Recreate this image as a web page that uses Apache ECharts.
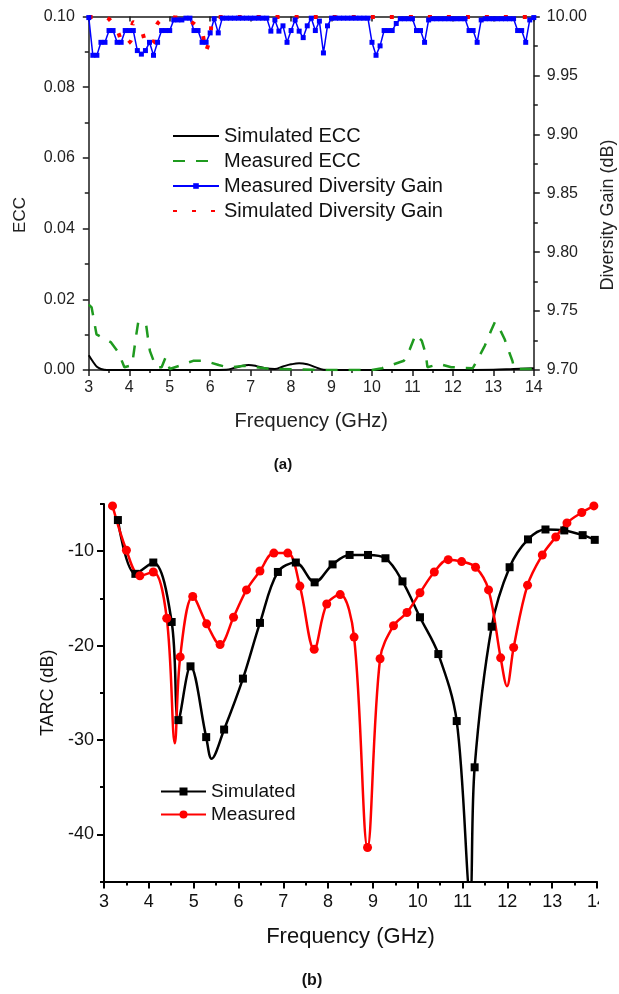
<!DOCTYPE html>
<html><head><meta charset="utf-8">
<script src="https://cdn.jsdelivr.net/npm/echarts@6/dist/echarts.min.js"></script>
<style>html,body{margin:0;padding:0;background:#fff}#c{width:619px;height:994px}</style>
</head><body><div id="c"></div>
<script>
const FONT = '"Liberation Sans", Arial, Helvetica, sans-serif';

// ---------- (a) ECC / Diversity Gain ----------
const simulatedEcc = [[3.0,0.0042],[3.1,0.0024],[3.2,0.0009],[3.3,0.0003],[3.45,0.0],[4.0,0.0],[5.0,0.0],[6.0,0.0],[6.4,0.0001],
  [6.6,0.0006],[6.8,0.0012],[6.95,0.0014],[7.15,0.0011],[7.4,0.0004],[7.6,0.0003],[7.8,0.0010],[8.0,0.0016],[8.2,0.0019],
  [8.4,0.0016],[8.6,0.0008],[8.8,0.0001],[9.0,0.0],[10.0,0.0],[11.0,0.0],[12.0,0.0],[13.0,0.0001],[13.5,0.0003],[14.0,0.0005]];
const measuredEcc = [[3.0,0.0185],[3.07,0.0177],[3.19,0.0101],[3.55,0.0078],[3.73,0.005],[3.88,0.0008],[4.07,0.0014],[4.17,0.0097],
  [4.22,0.0134],[4.41,0.0134],[4.46,0.0092],[4.51,0.0054],[4.66,0.0008],[4.8,0.0008],[4.9,0.0036],[5.0,0.0003],[5.29,0.0014],
  [5.58,0.0026],[5.87,0.0026],[6.21,0.0014],[6.46,0.0007],[6.85,0.0012],[7.5,0.0003],[8.0,0.0002],[9.0,0.0],[10.0,0.0],
  [10.25,0.0005],[10.79,0.0026],[10.94,0.006],[11.08,0.0101],[11.23,0.0083],[11.33,0.0045],[11.37,0.0008],[11.67,0.0017],
  [11.96,0.0008],[12.49,0.0005],[12.64,0.0036],[12.79,0.0069],[12.94,0.011],[13.04,0.0136],[13.14,0.012],[13.28,0.0087],
  [13.38,0.0054],[13.47,0.0026],[13.52,0.0003],[14.0,0.0003]];
const dgFreq = [3.0,3.1,3.2,3.3,3.4,3.5,3.6,3.7,3.8,3.9,
  4.0,4.1,4.2,4.3,4.4,4.5,4.6,4.7,4.8,4.9,
  5.0,5.1,5.2,5.3,5.4,5.5,5.6,5.7,5.8,5.9,
  6.0,6.1,6.2,6.3,6.4,6.5,6.6,6.7,6.8,6.9,
  7.0,7.1,7.2,7.3,7.4,7.5,7.6,7.7,7.8,7.9,
  8.0,8.1,8.2,8.3,8.4,8.5,8.6,8.7,8.8,8.9,
  9.0,9.1,9.2,9.3,9.4,9.5,9.6,9.7,9.8,9.9,
  10.0,10.1,10.2,10.3,10.4,10.5,10.6,10.7,10.8,10.9,
  11.0,11.1,11.2,11.3,11.4,11.5,11.6,11.7,11.8,11.9,
  12.0,12.1,12.2,12.3,12.4,12.5,12.6,12.7,12.8,12.9,
  13.0,13.1,13.2,13.3,13.4,13.5,13.6,13.7,13.8,13.9,
  14.0];
const measuredDG = [9.999,9.967,9.967,9.978,9.978,9.988,9.988,9.978,9.978,9.988,
  9.988,9.988,9.971,9.968,9.971,9.978,9.967,9.978,9.988,9.988,
  9.988,9.997,9.997,9.997,9.9985,9.9985,9.988,9.988,9.978,9.978,
  9.986,9.998,9.986,9.9985,9.9985,9.9985,9.9985,9.9985,9.9985,9.9985,
  9.9985,9.9985,9.9985,9.9985,9.9985,9.9875,9.997,9.9875,9.992,9.978,
  9.988,9.997,9.9875,9.982,9.992,9.9985,9.988,9.996,9.969,9.992,
  9.9985,9.9985,9.9985,9.9985,9.9985,9.9985,9.9985,9.9985,9.9985,9.9985,
  9.978,9.967,9.975,9.988,9.988,9.988,9.994,9.998,9.998,9.998,
  9.998,9.988,9.988,9.978,9.997,9.998,9.998,9.998,9.998,9.998,
  9.998,9.998,9.998,9.998,9.988,9.988,9.978,9.997,9.998,9.998,
  9.998,9.998,9.998,9.998,9.998,9.998,9.988,9.988,9.978,9.997,
  9.999];
const simulatedDG = [[3.0,9.9995],[3.4,9.9995],[3.7,9.988],[3.88,9.975],[4.05,9.98],[4.1,9.995],[4.3,9.988],[4.45,9.975],
  [4.6,9.978],[4.7,9.994],[5.0,9.9995],[5.5,9.996],[5.8,9.986],[5.88,9.970],[6.0,9.982],[6.1,9.9995],[14.0,9.9995]];

// ---------- (b) TARC ----------
const simulatedTarc = [[3.31,-6.7],[3.70,-12.4],[4.10,-11.2],[4.51,-17.5],[4.66,-27.9],[4.93,-22.2],[5.28,-29.7],[5.68,-28.9],
  [6.10,-23.5],[6.48,-17.6],[6.88,-12.2],[7.28,-11.2],[7.70,-13.3],[8.10,-11.4],[8.48,-10.4],[8.89,-10.4],[9.28,-10.75],
  [9.66,-13.2],[10.05,-17.0],[10.46,-20.9],[10.87,-28.0],[11.27,-32.9],[11.65,-18.0],[12.05,-11.7],[12.46,-8.75],
  [12.85,-7.7],[13.27,-7.8],[13.68,-8.3],[13.95,-8.8]];
const simulatedTarcDips = [[5.40,-32.0],[11.17,-46.5]];
const measuredTarc = [[3.19,-5.2],[3.50,-9.9],[3.80,-12.6],[4.10,-12.2],[4.40,-17.1],[4.70,-21.2],[4.98,-14.8],[5.29,-17.7],
  [5.59,-19.9],[5.89,-17.0],[6.18,-14.1],[6.48,-12.1],[6.79,-10.2],[7.10,-10.2],[7.37,-13.7],[7.69,-20.4],[7.97,-15.6],
  [8.27,-14.6],[8.58,-19.1],[8.88,-41.4],[9.16,-21.4],[9.46,-17.9],[9.76,-16.5],[10.05,-14.4],[10.37,-12.2],[10.68,-10.9],
  [10.98,-11.1],[11.29,-11.7],[11.58,-14.1],[11.85,-21.3],[12.14,-20.2],[12.45,-13.6],[12.78,-10.4],[13.08,-8.5],
  [13.33,-7.0],[13.66,-5.9],[13.93,-5.2]];
const measuredTarcDips = [[4.58,-30.35],[11.99,-24.3]];
const tarcMajor = [-40,-30,-20,-10];
const tarcMinor = [-45,-35,-25,-15,-5];

function merge(a, b) { return a.concat(b).sort((p, q) => p[0] - q[0]); }
function isIn(list, v) { return list.some(p => p[0] === v[0] && p[1] === v[1]); }

const AX = '#1a1a1a';
const chart = echarts.init(document.getElementById('c'));
const option = {
  animation: false,
  backgroundColor: '#ffffff',
  textStyle: { fontFamily: FONT },
  grid: [
    { left: 88.8, top: 16.4, width: 445, height: 353.6, containLabel: false, outerBoundsMode: 'none' },
    { left: 104, top: 504, width: 493, height: 377.5, containLabel: false, outerBoundsMode: 'none' }
  ],
  xAxis: [
    { gridIndex: 0, type: 'value', min: 3, max: 14, interval: 1, position: 'bottom',
      name: 'Frequency (GHz)', nameLocation: 'middle', nameGap: 41,
      nameTextStyle: { fontSize: 20, color: '#222', fontFamily: FONT },
      axisLine: { onZero: false, lineStyle: { color: AX, width: 1.5 } },
      axisTick: { length: 6, lineStyle: { color: AX, width: 1.5 } },
      minorTick: { show: true, splitNumber: 2, length: 3, lineStyle: { color: AX, width: 1.5 } },
      axisLabel: { fontSize: 16, color: '#222', margin: 10, fontFamily: FONT },
      splitLine: { show: false }, minorSplitLine: { show: false } },
    { gridIndex: 0, type: 'value', min: 3, max: 14, interval: 1, position: 'top',
      axisLine: { onZero: false, lineStyle: { color: AX, width: 1.5 } },
      axisTick: { inside: true, length: 5, lineStyle: { color: AX, width: 1.5 } },
      minorTick: { show: false },
      axisLabel: { show: false }, splitLine: { show: false } },
    { gridIndex: 1, type: 'value', min: 3, max: 14, interval: 1, position: 'bottom',
      name: 'Frequency (GHz)', nameLocation: 'middle', nameGap: 44,
      nameTextStyle: { fontSize: 22, color: '#111', fontFamily: FONT },
      axisLine: { onZero: false, lineStyle: { color: '#000', width: 2 } },
      axisTick: { length: 7, lineStyle: { color: '#000', width: 2 } },
      minorTick: { show: true, splitNumber: 2, length: 4, lineStyle: { color: '#000', width: 2 } },
      axisLabel: { fontSize: 18, color: '#111', margin: 12, fontFamily: FONT },
      splitLine: { show: false }, minorSplitLine: { show: false } }
  ],
  yAxis: [
    { gridIndex: 0, type: 'value', min: 0, max: 0.1, interval: 0.02, position: 'left',
      axisLine: { onZero: false, lineStyle: { color: AX, width: 1.5 } },
      axisTick: { length: 6, lineStyle: { color: AX, width: 1.5 } },
      minorTick: { show: true, splitNumber: 2, length: 4, lineStyle: { color: AX, width: 1.5 } },
      axisLabel: { fontSize: 16, color: '#222', margin: 14, fontFamily: FONT, formatter: v => v.toFixed(2) },
      splitLine: { show: false }, minorSplitLine: { show: false } },
    { gridIndex: 0, type: 'value', min: 9.7, max: 10.0, interval: 0.05, position: 'right',
      axisLine: { onZero: false, lineStyle: { color: AX, width: 1.5 } },
      axisTick: { length: 6, lineStyle: { color: AX, width: 1.5 } },
      minorTick: { show: true, splitNumber: 2, length: 4, lineStyle: { color: AX, width: 1.5 } },
      axisLabel: { fontSize: 16, color: '#222', margin: 13, fontFamily: FONT, formatter: v => v.toFixed(2) },
      splitLine: { show: false }, minorSplitLine: { show: false } },
    { gridIndex: 1, type: 'value', min: -45, max: -5, position: 'left',
      name: 'TARC (dB)', nameLocation: 'middle', nameGap: 44,
      nameTextStyle: { fontSize: 18, color: '#111', fontFamily: FONT },
      axisLine: { onZero: false, lineStyle: { color: '#000', width: 2 } },
      axisTick: { length: 7, customValues: tarcMajor, lineStyle: { color: '#000', width: 2 } },
      axisLabel: { fontSize: 18, color: '#111', margin: 10, fontFamily: FONT, customValues: tarcMajor },
      splitLine: { show: false } },
    { gridIndex: 1, type: 'value', min: -45, max: -5, position: 'left',
      axisLine: { show: false },
      axisTick: { length: 4, customValues: tarcMinor, lineStyle: { color: '#000', width: 2 } },
      axisLabel: { show: false }, splitLine: { show: false } }
  ],
  legend: [
    { orient: 'vertical', left: 172, top: 126, padding: 0, itemWidth: 46, itemHeight: 7, itemGap: 5,
      textStyle: { fontSize: 20, color: '#111', fontFamily: FONT },
      data: [
        { name: 'Simulated ECC', itemStyle: { opacity: 0 } },
        { name: 'Measured ECC', itemStyle: { opacity: 0 } },
        { name: 'Measured Diversity Gain' },
        { name: 'Simulated Diversity Gain', itemStyle: { opacity: 0 } }
      ] },
    { orient: 'vertical', left: 160, top: 782, padding: 0, itemWidth: 45, itemHeight: 10, itemGap: 4,
      textStyle: { fontSize: 19, color: '#111', fontFamily: FONT },
      data: ['Simulated', 'Measured'] }
  ],
  series: [
    { name: 'Simulated ECC', type: 'line', xAxisIndex: 0, yAxisIndex: 0, data: simulatedEcc,
      smooth: 0.4, symbol: 'none', color: '#000',
      lineStyle: { color: '#000', width: 2 } },
    { name: 'Measured ECC', type: 'line', xAxisIndex: 0, yAxisIndex: 0, data: measuredEcc,
      symbol: 'none', color: '#1f9a1f',
      lineStyle: { color: '#1f9a1f', width: 2.5, type: [12, 11] } },
    { name: 'Measured Diversity Gain', type: 'line', xAxisIndex: 0, yAxisIndex: 1,
      data: dgFreq.map((f, i) => [f, measuredDG[i]]),
      symbol: 'rect', symbolSize: 5, showSymbol: true, showAllSymbol: true, color: '#0000ff',
      itemStyle: { color: '#0000ff' }, lineStyle: { color: '#0000ff', width: 1.5 } },
    { name: 'Simulated Diversity Gain', type: 'line', xAxisIndex: 0, yAxisIndex: 1, data: simulatedDG,
      smooth: 0.3, symbol: 'none', color: '#ff0000',
      lineStyle: { color: '#ff0000', width: 4, type: [4, 15] } },
    { name: 'Simulated', type: 'line', xAxisIndex: 2, yAxisIndex: 2,
      data: merge(simulatedTarc, simulatedTarcDips),
      smooth: 0.35, symbol: 'rect', showAllSymbol: true,
      symbolSize: v => isIn(simulatedTarcDips, v) ? 0 : 8,
      color: '#000', itemStyle: { color: '#000' }, lineStyle: { color: '#000', width: 2.5 } },
    { name: 'Measured', type: 'line', xAxisIndex: 2, yAxisIndex: 2,
      data: merge(measuredTarc, measuredTarcDips),
      smooth: 0.35, symbol: 'circle', showAllSymbol: true,
      symbolSize: v => isIn(measuredTarcDips, v) ? 0 : 9,
      color: '#ff0000', itemStyle: { color: '#ff0000' }, lineStyle: { color: '#ff0000', width: 2.5 } }
  ],
  graphic: [
    { type: 'rect', left: 599, top: 884, shape: { width: 20, height: 40 }, style: { fill: '#fff' }, z: 100 },
    { type: 'text', x: 20, y: 215, rotation: Math.PI / 2,
      style: { text: 'ECC', font: '17px ' + FONT, fill: '#222', align: 'center', verticalAlign: 'middle' } },
    { type: 'text', x: 608, y: 215, rotation: Math.PI / 2,
      style: { text: 'Diversity Gain (dB)', font: '18px ' + FONT, fill: '#222', align: 'center', verticalAlign: 'middle' } },
    { type: 'text', x: 283, y: 465,
      style: { text: '(a)', font: 'bold 15px ' + FONT, fill: '#111', align: 'center', verticalAlign: 'middle' } },
    { type: 'text', x: 312, y: 981,
      style: { text: '(b)', font: 'bold 16px ' + FONT, fill: '#111', align: 'center', verticalAlign: 'middle' } }
  ]
};
chart.setOption(option);
</script>
</body></html>
